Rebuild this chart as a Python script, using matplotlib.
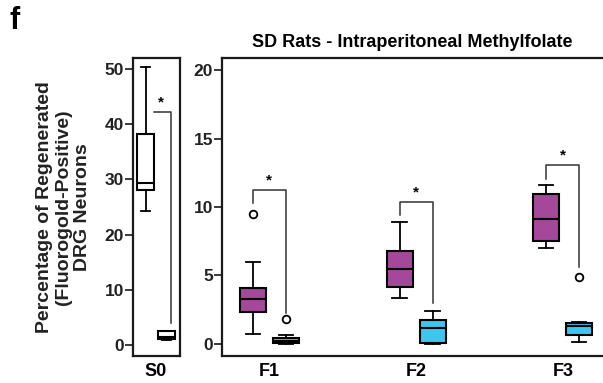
import numpy as np
import matplotlib
matplotlib.use('Agg')
import matplotlib.pyplot as plt

plt.rcParams['font.family'] = ['Liberation Sans', 'DejaVu Sans']
plt.rcParams['font.weight'] = 'bold'

# --- data ---
# sham group S0: control (white) and second (small) box
s0_stats = [
    # whislo, q1, med, q3, whishi, fliers
    [24.2, 28.1, 29.3, 38.3, 50.4, []],
    [0.9, 1.1, 1.5, 2.5, 2.5, []],
]
s0_bracket = [42.2, 4.0]   # top, right leg end

groups = ['F1', 'F2', 'F3']
purple_stats = [
    [0.73, 2.36, 3.26, 4.06, 6.0, [9.49]],
    [3.38, 4.18, 5.45, 6.79, 8.88, []],
    [7.0, 7.54, 9.12, 10.97, 11.58, []],
]
blue_stats = [
    [0.0, 0.05, 0.22, 0.41, 0.66, [1.85]],
    [0.0, 0.05, 1.19, 1.75, 2.43, []],
    [0.17, 0.66, 1.34, 1.51, 1.58, [4.87]],
]
# bracket: top, left leg end, right leg end
brackets = [
    [11.24, 10.27, 2.24],
    [10.39, 9.4, 2.97],
    [13.1, 12.04, 5.64],
]

purple = '#a5479a'
blue = '#3cc6f0'
dark = '#1a1a1a'


def to_dicts(stats):
    out = []
    for s in stats:
        out.append(dict(whislo=s[0], q1=s[1], med=s[2], q3=s[3], whishi=s[4], fliers=s[5]))
    return out


def draw_boxes(ax, stats, pos, width, color):
    ax.bxp(to_dicts(stats), positions=pos, widths=width, patch_artist=True,
           capwidths=width * 0.55,
           boxprops=dict(facecolor=color, edgecolor='k', linewidth=1.5),
           medianprops=dict(color='k', linewidth=1.5),
           whiskerprops=dict(color='k', linewidth=1.3),
           capprops=dict(color='k', linewidth=1.3),
           flierprops=dict(marker='o', markerfacecolor='white', markeredgecolor='k',
                           markersize=5.5, markeredgewidth=1.3),
           manage_ticks=False)


def style_axes(ax):
    for sp in ax.spines.values():
        sp.set_linewidth(1.6)
        sp.set_color(dark)
    ax.tick_params(axis='y', length=6, width=1.2, labelsize=12.5, pad=0.5, color=dark,
                   labelcolor='#222222')
    ax.tick_params(axis='x', length=0, labelsize=13, pad=5)


fig = plt.figure(figsize=(6.03, 3.83), dpi=100)
ax0 = fig.add_axes([0.221, 0.0705, 0.0774, 0.778])
ax1 = fig.add_axes([0.368, 0.0705, 0.632, 0.778])

# left panel
draw_boxes(ax0, s0_stats[:1], [0.27], 0.36, 'white')
draw_boxes(ax0, s0_stats[1:], [0.72], 0.36, 'white')
ax0.plot([0.45, 0.80, 0.80], [s0_bracket[0], s0_bracket[0], s0_bracket[1]],
         color='#333333', lw=1.1)
ax0.text(0.585, s0_bracket[0] + 0.4, '*', ha='center', va='bottom', fontsize=11)
ax0.set_xlim(0, 1)
ax0.set_ylim(-2, 52)
ax0.set_yticks([0, 10, 20, 30, 40, 50])
ax0.set_xticks([0.47])
ax0.set_xticklabels(['S0'])
style_axes(ax0)
ax0.set_ylabel('Percentage of Regenerated\n(Fluorogold-Positive)\nDRG Neurons',
               fontsize=14, fontweight='bold', labelpad=10, linespacing=1.15,
               color='#222222')

# right panel
centers = np.arange(1, len(groups) + 1)
off = 0.1125
draw_boxes(ax1, purple_stats, centers - off, 0.178, purple)
draw_boxes(ax1, blue_stats, centers + off, 0.178, blue)
for c, b in zip(centers, brackets):
    ax1.plot([c - off, c - off, c + off, c + off], [b[1], b[0], b[0], b[2]],
             color='#333333', lw=1.1)
    ax1.text(c, b[0] + 0.18, '*', ha='center', va='bottom', fontsize=11)
ax1.set_xlim(0.676, 3.274)
ax1.set_ylim(-0.88, 20.88)
ax1.set_yticks([0, 5, 10, 15, 20])
ax1.set_xticks(centers)
ax1.set_xticklabels(groups)
style_axes(ax1)
ax1.spines['right'].set_visible(False)
ax1.set_title('SD Rats - Intraperitoneal Methylfolate', fontsize=13,
              fontweight='bold', pad=8)

fig.text(0.016, 0.945, 'f', fontsize=22, fontweight='bold', ha='left', va='center')

fig.savefig('out.png', dpi=100)
